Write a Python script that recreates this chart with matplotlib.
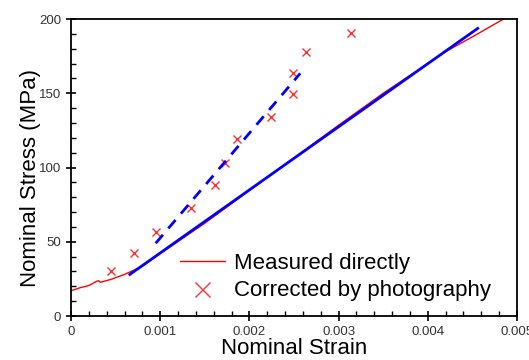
import numpy as np
import matplotlib
matplotlib.use("Agg")
import matplotlib.pyplot as plt
from matplotlib.ticker import MultipleLocator, FuncFormatter

plt.rcParams['font.family'] = ['Liberation Sans', 'DejaVu Sans']

# measured curve (red)
strain_meas = [0, 0.0001, 0.0002, 0.00029, 0.00031, 0.00033, 0.00045, 0.0006,
               0.0008, 0.001, 0.0015, 0.002, 0.0025, 0.003, 0.0035, 0.004,
               0.0042, 0.0045, 0.00485]
stress_meas = [17, 19, 20.5, 23.4, 23.8, 22.7, 24.7, 28.0,
               33.5, 42, 62.5, 84.5, 106.5, 128.5, 150, 170,
               178, 188, 200]

# photography points (red x)
strain_photo = [0.00045, 0.00071, 0.00095, 0.00135, 0.00161, 0.00173, 0.00186,
                0.00224, 0.00249, 0.00249, 0.00263, 0.00314]
stress_photo = [30.3, 42.4, 56.4, 72.5, 88.2, 103.2, 119, 134.2, 149.3, 163.8,
                177.8, 190.4]

# linear fits (blue)
fit_meas_x = [0.00066, 0.00456]
fit_meas_y = [28, 193.7]
fit_photo_x = [0.00095, 0.00257]
fit_photo_y = [49, 163.4]

fig = plt.figure(figsize=(5.29, 3.6), dpi=100)
ax = fig.add_axes([0.1342, 0.1222, 0.8431, 0.825])

l1, = ax.plot(strain_meas, stress_meas, color='#ff0000', lw=1.0,
              label='Measured directly')
l2, = ax.plot(strain_photo, stress_photo, 'x', color='#ff3030', ms=6, mew=1.0,
              label='Corrected by photography')
ax.plot(fit_meas_x, fit_meas_y, color='#0000ff', lw=2.0)
ax.plot(fit_photo_x, fit_photo_y, color='#0000ff', lw=2.0, ls=(0, (4, 3)))

ax.set_xlim(0, 0.005)
ax.set_ylim(0, 200)
ax.xaxis.set_major_locator(MultipleLocator(0.001))
ax.xaxis.set_minor_locator(MultipleLocator(0.0002))
ax.yaxis.set_major_locator(MultipleLocator(50))
ax.yaxis.set_minor_locator(MultipleLocator(10))
ax.xaxis.set_major_formatter(FuncFormatter(lambda v, p: '0' if v == 0 else f'{v:g}'))
ax.yaxis.set_major_formatter(FuncFormatter(lambda v, p: f'{v:g}'))
ax.tick_params(which='major', direction='inout', length=7, width=1.2,
               labelsize=9.5, labelcolor='#333333')
ax.tick_params(which='minor', direction='in', length=3.5, width=1.0)
for s in ax.spines.values():
    s.set_linewidth(1.3)

ax.set_xlabel('Nominal Strain', fontsize=16, labelpad=0)
ax.set_ylabel('Nominal Stress (MPa)', fontsize=16)
ax.yaxis.set_label_coords(-0.067, 0.465)

ax.legend(handles=[l1, l2], loc='center left', bbox_to_anchor=(0.20, 0.131),
          frameon=False, fontsize=16, markerscale=1.8, handlelength=2.0,
          handletextpad=0.4, labelspacing=0.3)

fig.savefig('out.png', dpi=100)
